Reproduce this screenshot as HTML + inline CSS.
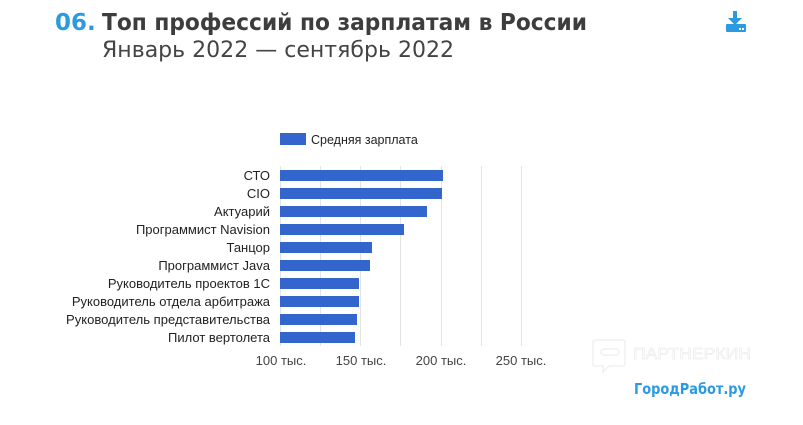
<!DOCTYPE html>
<html><head><meta charset="utf-8"><style>
html,body{margin:0;padding:0;background:#fff;width:803px;height:425px;overflow:hidden}
svg{display:block;font-family:"Liberation Sans","DejaVu Sans",sans-serif}
</style></head><body>
<svg width="803" height="425" viewBox="0 0 803 425" xmlns="http://www.w3.org/2000/svg">
<text x="55" y="30" font-size="23" font-weight="bold" fill="#2a9be0" font-family="DejaVu Sans, sans-serif">06.</text>
<text x="102" y="30" font-size="23" font-weight="bold" fill="#3d3d3d" textLength="485" lengthAdjust="spacingAndGlyphs" font-family="DejaVu Sans, sans-serif">Топ профессий по зарплатам в России</text>
<text x="102" y="57" font-size="22" fill="#444" textLength="352" lengthAdjust="spacingAndGlyphs" font-family="DejaVu Sans, sans-serif">Январь 2022 — сентябрь 2022</text>
<g fill="#2a9be0">
<rect x="733" y="11" width="4" height="8"/>
<polygon points="728,18 742,18 735,25"/>
<rect x="726" y="24" width="20" height="8" rx="1"/>
</g>
<rect x="739" y="28" width="2" height="2" fill="#fff"/><rect x="742" y="28" width="2" height="2" fill="#fff"/>
<rect x="280" y="133" width="26" height="12" fill="#3366cc"/>
<text x="311" y="144" font-size="12.5" fill="#222">Средняя зарплата</text>
<g stroke="#e3e3e3" stroke-width="1">
<line x1="280.5" y1="166" x2="280.5" y2="346"/>
<line x1="320.5" y1="166" x2="320.5" y2="346"/>
<line x1="360.5" y1="166" x2="360.5" y2="346"/>
<line x1="400.5" y1="166" x2="400.5" y2="346"/>
<line x1="441.5" y1="166" x2="441.5" y2="346"/>
<line x1="481.5" y1="166" x2="481.5" y2="346"/>
<line x1="521.5" y1="166" x2="521.5" y2="346"/>
</g>
<g fill="#3366cc">
<rect x="280" y="170" width="163" height="11"/>
<rect x="280" y="188" width="162" height="11"/>
<rect x="280" y="206" width="147" height="11"/>
<rect x="280" y="224" width="124" height="11"/>
<rect x="280" y="242" width="92" height="11"/>
<rect x="280" y="260" width="90" height="11"/>
<rect x="280" y="278" width="79" height="11"/>
<rect x="280" y="296" width="79" height="11"/>
<rect x="280" y="314" width="77" height="11"/>
<rect x="280" y="332" width="75" height="11"/>
</g>
<g font-size="13" fill="#222" text-anchor="end">
<text x="270" y="180">СТО</text>
<text x="270" y="198">CIO</text>
<text x="270" y="216">Актуарий</text>
<text x="270" y="234">Программист Navision</text>
<text x="270" y="252">Танцор</text>
<text x="270" y="270">Программист Java</text>
<text x="270" y="288">Руководитель проектов 1С</text>
<text x="270" y="306">Руководитель отдела арбитража</text>
<text x="270" y="324" textLength="204" lengthAdjust="spacingAndGlyphs">Руководитель представительства</text>
<text x="270" y="342">Пилот вертолета</text>
</g>
<g font-size="13" fill="#444" text-anchor="middle">
<text x="281" y="365">100 тыс.</text>
<text x="361" y="365">150 тыс.</text>
<text x="441" y="365">200 тыс.</text>
<text x="521" y="365">250 тыс.</text>
</g>
<g stroke="#f0f0f0" fill="none" stroke-width="1.5">
<path d="M595,340 h28 a2,2 0 0 1 2,2 v22 a2,2 0 0 1 -2,2 h-14 l-6,6 v-6 h-8 a2,2 0 0 1 -2,-2 v-22 a2,2 0 0 1 2,-2z"/>
<rect x="601" y="349" width="18" height="6" rx="3"/>
</g>
<text x="633" y="359" font-size="16" fill="none" stroke="#ececec" stroke-width="0.7" textLength="118" lengthAdjust="spacingAndGlyphs">ПАРТНЕРКИН</text>
<text x="634" y="394" font-size="15" font-weight="bold" fill="#2a9be0" textLength="112" lengthAdjust="spacingAndGlyphs" font-family="DejaVu Sans, sans-serif">ГородРабот.ру</text>
</svg>
</body></html>
